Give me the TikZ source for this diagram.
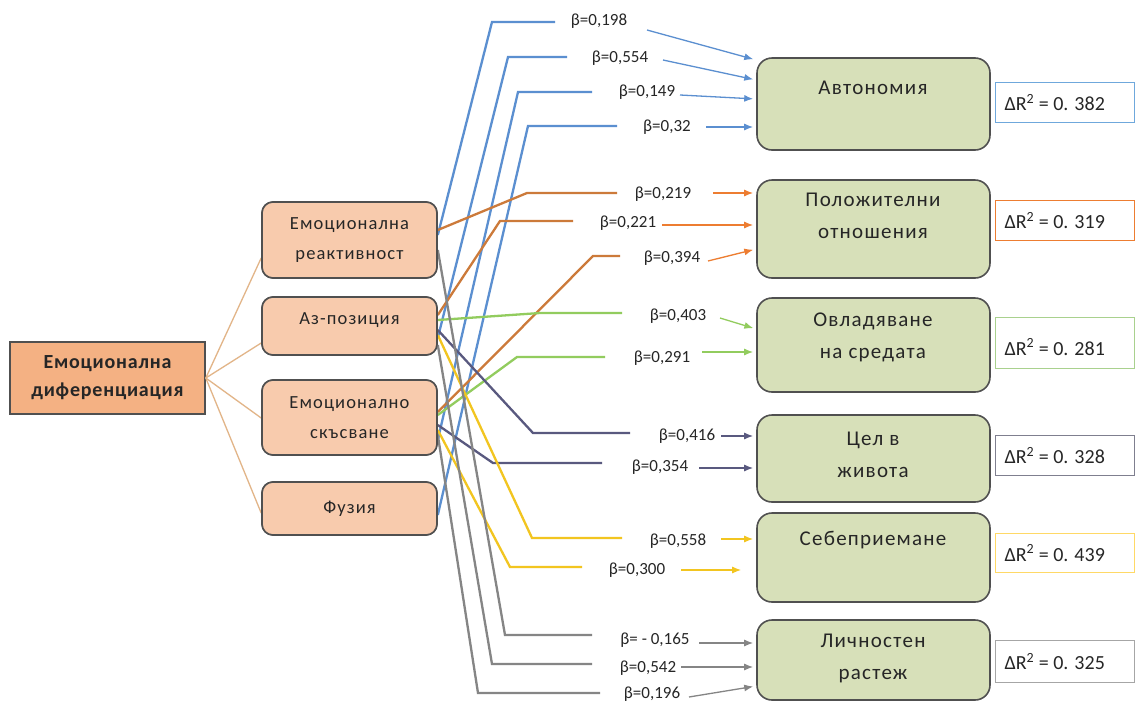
\documentclass[tikz,border=0pt]{standalone}
\usepackage{fontspec}
\setmainfont{Carlito}
\newfontfamily\spacedfont[LetterSpace=6]{Carlito}
\newfontfamily\rootfont[LetterSpace=4]{Carlito}
\usetikzlibrary{arrows.meta}
\definecolor{rootfill}{HTML}{F4B183}
\definecolor{midfill}{HTML}{F8CBAD}
\definecolor{grfill}{HTML}{D7E0B9}
\definecolor{boxdraw}{HTML}{505050}
\definecolor{treec}{HTML}{E2B588}
\definecolor{cblue}{HTML}{5B8FD0}
\definecolor{corange}{HTML}{CC7A3A}
\definecolor{cgreen}{HTML}{92CC5E}
\definecolor{cpurple}{HTML}{59597F}
\definecolor{cyellow}{HTML}{F2C520}
\definecolor{cgray}{HTML}{858585}
\definecolor{dblue}{HTML}{6FA8DC}
\definecolor{dorange}{HTML}{ED7D31}
\definecolor{dgreen}{HTML}{A9D18E}
\definecolor{dpurple}{HTML}{7F7F8F}
\definecolor{dyellow}{HTML}{FFD966}
\definecolor{dgray}{HTML}{A6A6A6}
\definecolor{txt}{HTML}{262626}
\begin{document}
\begin{tikzpicture}[x=1pt,y=-1pt,
  rootbox/.style={draw=boxdraw, line width=1.6pt, fill=rootfill, align=center, text=txt,
     font=\rootfont\fontsize{20}{28}\selectfont\bfseries},
  midbox/.style={draw=boxdraw, line width=1.6pt, fill=midfill, rounded corners=11pt,
     minimum width=175pt, align=center, text=txt, font=\spacedfont\fontsize{18.5}{30}\selectfont},
  grbox/.style={draw=boxdraw, line width=1.6pt, fill=grfill, rounded corners=15pt,
     minimum width=233pt},
  grtext/.style={text=txt, font=\spacedfont\fontsize{21}{32}\selectfont, align=center},
  drbox/.style={line width=1.3pt, fill=white, minimum width=139pt, minimum height=40pt, inner sep=0pt},
  drtext/.style={text=txt, font=\fontsize{20}{22}\selectfont, anchor=west},
  tree/.style={draw=treec, line width=1.3pt},
  conn/.style={line width=2.3pt},
  arr/.style={line width=1.3pt, -{Latex[length=9pt,width=7pt]}, shorten >=3pt},
  blab/.style={text=txt, font=\fontsize{17}{18}\selectfont, inner sep=1pt}
]
\useasboundingbox (0,0) rectangle (1135,702);
\fill[white] (0,0) rectangle (1135,702);

% ---------- nodes ----------
\node[rootbox, minimum width=195pt, minimum height=72pt] (diff) at (107.5,378) {Емоционална\\диференциация};
\node[midbox, minimum height=76pt] (reakt) at (349.5,240) {};
\node[midbox, minimum height=58pt] (az) at (349.5,326) {};
\node[midbox, minimum height=75pt] (skasv) at (349.5,417.5) {};
\node[midbox, minimum height=53pt] (fuz) at (349.5,508.5) {};

\node[grbox, minimum height=92pt] (avt) at (873.5,104) {};
\node[grbox, minimum height=98pt] (pol) at (873.5,229) {};
\node[grbox, minimum height=94pt] (ovl) at (873.5,345) {};
\node[grbox, minimum height=87pt] (cel) at (873.5,458.5) {};
\node[grbox, minimum height=89pt] (seb) at (873.5,557.5) {};
\node[grbox, minimum height=80pt] (lich) at (873.5,660) {};

% ---------- tree ----------
\draw[tree] (diff.east) -- (reakt.west |- 0,258);
\draw[tree] (diff.east) -- (az.west |- 0,343);
\draw[tree] (diff.east) -- (skasv.west |- 0,418);
\draw[tree] (diff.east) -- (fuz.west |- 0,513);

% ---------- Автономия (blue) ----------
\coordinate (b1) at (555,22); \coordinate (b2) at (567,57);
\coordinate (b3) at (592,92); \coordinate (b4) at (617,126);
\draw[conn, cblue] (reakt.east |- 0,235) -- (492,22) -- (b1);
\draw[conn, cblue] (az.east |- 0,338) -- (508,57) -- (b2);
\draw[conn, cblue] (skasv.east |- 0,440) -- (518,92) -- (b3);
\draw[conn, cblue] (fuz.east |- 0,515) -- (528,126) -- (b4);
\node[blab] (lb1) at (599,21) {β=0,198};
\node[blab] (lb2) at (620,58) {β=0,554};
\node[blab] (lb3) at (647,92) {β=0,149};
\node[blab] (lb4) at (667,127) {β=0,32};
\draw[arr, cblue] (647,30) -- (avt.west |- 0,60);
\draw[arr, cblue] (663,60) -- (avt.west |- 0,80);
\draw[arr, cblue] (680,95) -- (avt.west |- 0,99);
\draw[arr, cblue] (706,127) -- (avt.west |- 0,127);

% ---------- Положителни отношения (orange) ----------
\coordinate (o1) at (617,193); \coordinate (o2) at (573,221); \coordinate (o3) at (620,256);
\draw[conn, corange] (reakt.east |- 0,230) -- (527,193) -- (o1);
\draw[conn, corange] (az.east |- 0,315) -- (500,221) -- (o2);
\draw[conn, corange] (skasv.east |- 0,412) -- (593,256) -- (o3);
\node[blab] (lo1) at (663,194) {β=0,219};
\node[blab] (lo2) at (628,223) {β=0,221};
\node[blab] (lo3) at (672,258) {β=0,394};
\draw[arr, dorange] (713,193) -- (pol.west |- 0,193);
\draw[arr, dorange] (662,225) -- (pol.west |- 0,225);
\draw[arr, dorange] (708,261) -- (pol.west |- 0,249);

% ---------- Овладяване на средата (green) ----------
\coordinate (g1) at (622,313); \coordinate (g2) at (605,357);
\draw[conn, cgreen] (az.east |- 0,320) -- (540,313) -- (g1);
\draw[conn, cgreen] (skasv.east |- 0,415) -- (517,357) -- (g2);
\node[blab] (lg1) at (678,316) {β=0,403};
\node[blab] (lg2) at (662,358) {β=0,291};
\draw[arr, cgreen] (720,318) -- (ovl.west |- 0,329);
\draw[arr, cgreen] (702,352) -- (ovl.west |- 0,352);

% ---------- Цел в живота (purple) ----------
\coordinate (p1) at (630,433); \coordinate (p2) at (602,463);
\draw[conn, cpurple] (az.east |- 0,330) -- (533,433) -- (p1);
\draw[conn, cpurple] (skasv.east |- 0,425) -- (493,463) -- (p2);
\node[blab] (lp1) at (687,436) {β=0,416};
\node[blab] (lp2) at (660,467) {β=0,354};
\draw[arr, cpurple] (721,436) -- (cel.west |- 0,436);
\draw[arr, cpurple] (699,468) -- (cel.west |- 0,468);

% ---------- Себеприемане (yellow) ----------
\coordinate (y1) at (622,538); \coordinate (y2) at (582,567);
\draw[conn, cyellow] (az.east |- 0,335) -- (532,538) -- (y1);
\draw[conn, cyellow] (skasv.east |- 0,430) -- (510,567) -- (y2);
\node[blab] (ly1) at (678,541) {β=0,558};
\node[blab] (ly2) at (637,570) {β=0,300};
\draw[arr, cyellow] (721,539) -- (seb.west |- 0,539);
\draw[arr, cyellow, shorten >=15pt] (681,570) -- (seb.west |- 0,570);

% ---------- Личностен растеж (gray) ----------
\coordinate (r1) at (592,635); \coordinate (r2) at (592,664); \coordinate (r3) at (600,693);
\draw[conn, cgray] (reakt.east |- 0,250) -- (505,635) -- (r1);
\draw[conn, cgray] (az.east |- 0,345) -- (492,664) -- (r2);
\draw[conn, cgray] (skasv.east |- 0,435) -- (478,693) -- (r3);
\node[blab] (lr1) at (655,640) {β= - 0,165};
\node[blab] (lr2) at (648,668) {β=0,542};
\node[blab] (lr3) at (652,694) {β=0,196};
\draw[arr, cgray] (699,643) -- (lich.west |- 0,643);
\draw[arr, cgray] (681,667) -- (lich.west |- 0,667);
\draw[arr, cgray] (689,697) -- (lich.west |- 0,686);

% middle boxes drawn over the line ends
\node[midbox, minimum height=76pt] at (reakt) {Емоционална\\реактивност};
\node[midbox, minimum height=58pt, text depth=14pt] at (az) {Аз-позиция};
\node[midbox, minimum height=75pt] at (skasv) {Емоционално\\скъсване};
\node[midbox, minimum height=53pt] at (fuz) {Фузия};

% ---------- green box texts ----------
\node[grtext] at (873,88) {Автономия};
\node[grtext] at (873,216) {Положителни\\отношения};
\node[grtext] at (873,337) {Овладяване\\на средата};
\node[grtext] at (873,455) {Цел в\\живота};
\node[grtext] at (873,540) {Себеприемане};
\node[grtext] at (873,658) {Личностен\\растеж};

% ---------- ΔR boxes ----------
\node[drbox, draw=dblue, anchor=north west] (d1) at (995,82) {};
\node[drbox, draw=dorange, anchor=north west] (d2) at (995,200) {};
\node[drbox, draw=dgreen, anchor=north west, minimum height=51pt] (d3) at (995,317) {};
\node[drbox, draw=dpurple, anchor=north west] (d4) at (995,435) {};
\node[drbox, draw=dyellow, anchor=north west, minimum height=39pt] (d5) at (995,533) {};
\node[drbox, draw=dgray, anchor=north west, minimum height=42pt] (d6) at (995,640) {};
\node[drtext] at ([xshift=6pt]d1.west) {ΔR\textsuperscript{2} = 0. 382};
\node[drtext] at ([xshift=6pt]d2.west) {ΔR\textsuperscript{2} = 0. 319};
\node[drtext] at ([xshift=6pt,yshift=-4pt]d3.west) {ΔR\textsuperscript{2} = 0. 281};
\node[drtext] at ([xshift=6pt]d4.west) {ΔR\textsuperscript{2} = 0. 328};
\node[drtext] at ([xshift=6pt]d5.west) {ΔR\textsuperscript{2} = 0. 439};
\node[drtext] at ([xshift=6pt]d6.west) {ΔR\textsuperscript{2} = 0. 325};
\end{tikzpicture}
\end{document}
